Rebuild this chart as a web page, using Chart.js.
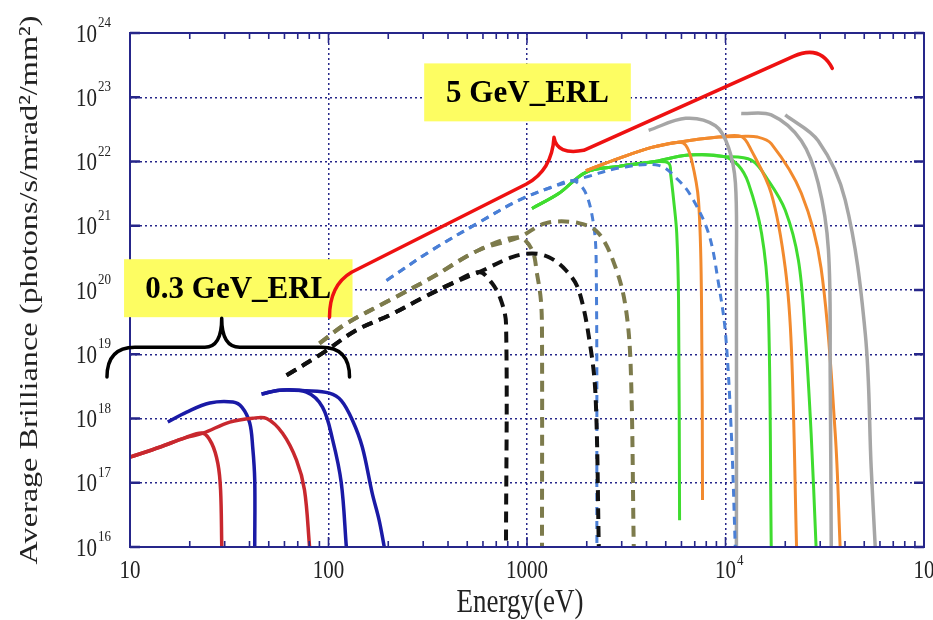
<!DOCTYPE html>
<html>
<head>
<meta charset="utf-8">
<script src="https://cdn.jsdelivr.net/npm/chart.js@4.4.1/dist/chart.umd.min.js"></script>
<style>
  html, body { margin: 0; padding: 0; background: #fff; }
  #chart { display: block; }
</style>
</head>
<body>
<canvas id="chart" width="933" height="620"></canvas>
<script>
// Axis ticks (decades)
const xTicks = [10, 100, 1000, 1e4, 1e5];
const xTickLabels = [["10", ""], ["100", ""], ["1000", ""], ["10", "4"], ["10", "5"]];
const yTicks = [1e16, 1e17, 1e18, 1e19, 1e20, 1e21, 1e22, 1e23, 1e24];
const yTickLabels = ["16", "17", "18", "19", "20", "21", "22", "23", "24"];

// 0.3 GeV_ERL curves (solid red / blue)
const redA_E = [10, 14.2, 18.9, 23.3, 25.8, 27.7, 28.6, 29.0];
const redA_B = [2.5e17, 3.6e17, 5.0e17, 5.9e17, 4.1e17, 2.0e17, 7.7e16, 1e16];
const redB_E = [10, 14.2, 18.9, 23.3, 31.8, 41.5, 48.8, 58.7, 69, 75.7, 80.3];
const redB_B = [2.5e17, 3.6e17, 5.0e17, 5.9e17, 8.8e17, 1.01e18, 1.0e18, 5.9e17, 2.25e17, 7.7e16, 1e16];
const blueC_E = [15.5, 19.3, 25.2, 33, 36.6, 40.1, 41.5, 42.5, 42.5];
const blueC_B = [8.8e17, 1.26e18, 1.74e18, 1.8e18, 1.5e18, 8.5e17, 3.6e17, 1.1e17, 1e16];
const blueD_E = [46, 56.8, 77.4, 93.3, 105, 116, 123];
const blueD_B = [2.4e18, 2.76e18, 2.57e18, 1.5e18, 4.6e17, 9.9e16, 1e16];
const blueE_E = [46, 56.8, 77.4, 101, 116, 132, 148, 166, 180, 191];
const blueE_B = [2.4e18, 2.76e18, 2.7e18, 2.48e18, 1.9e18, 9.4e17, 3.6e17, 6.9e16, 2.6e16, 1e16];

// dashed curves
const blackBig_E = [61.5, 93.3, 138, 203, 297, 420, 574, 841, 1060, 1290, 1570, 1824, 2100, 2220, 2300];
const blackBig_B = [4.7e18, 1.04e19, 2.37e19, 4.05e19, 7.5e19, 1.27e20, 1.9e20, 3.25e20, 3.7e20, 3.24e20, 2.03e20, 9.9e19, 1.15e19, 1.93e18, 1e16];
const blackSmall_E = [61.5, 93.3, 138, 203, 297, 420, 574, 667, 740, 784, 784];
const blackSmall_B = [4.7e18, 1.04e19, 2.37e19, 4.05e19, 7.5e19, 1.27e20, 1.9e20, 1.27e20, 6.9e19, 3e19, 1e16];
const oliveA_E = [90, 123, 203, 333, 574, 912, 1060, 1122, 1175, 1190, 1190];
const oliveA_B = [1.48e19, 3e19, 6.9e19, 1.58e20, 4.2e20, 6.6e20, 4.2e20, 1.82e20, 6.9e19, 2.1e19, 1e16];
const oliveB_E = [90, 123, 203, 333, 574, 912, 1245, 1824, 2300, 2800, 3140, 3330, 3450];
const oliveB_B = [1.48e19, 3e19, 6.9e19, 1.58e20, 4.2e20, 6.6e20, 1.1e21, 1.1e21, 7.6e20, 2.2e20, 5.4e19, 6.3e18, 1e16];
const bdashA_E = [196, 333, 574, 912, 1336, 1700, 1950, 2150, 2230, 2250];
const bdashA_B = [1.41e20, 4.2e20, 1.13e21, 2.5e21, 4e21, 5e21, 3.5e21, 1.2e21, 3e20, 1e16];
const bdashB_E = [196, 333, 574, 912, 1336, 2050, 2900, 4600, 5800, 6750, 8220, 9220, 10000, 10700, 11200];
const bdashB_B = [1.41e20, 4.2e20, 1.13e21, 2.5e21, 4e21, 5.9e21, 7.9e21, 8.7e21, 5.1e21, 2.8e21, 7.6e20, 1.27e20, 2.1e19, 5.9e17, 1e16];

// 5 GeV_ERL solid curves
const green1_E = [1060, 1450, 1980, 2900, 4250, 5170, 5300, 5480, 5680, 5800, 5870];
const green1_B = [1.86e21, 3.2e21, 6.8e21, 8.4e21, 9.8e21, 9.4e21, 6.1e21, 2.5e21, 7.6e20, 6.9e19, 2.6e16];
const green2_E = [1060, 1450, 1980, 2900, 4250, 6500, 9770, 11600, 13050, 15200, 16400, 17000];
const green2_B = [1.86e21, 3.2e21, 6.8e21, 8.4e21, 9.8e21, 1.26e22, 1.2e22, 8.7e21, 4.6e21, 7.6e20, 6.9e19, 1e16];
const green3_E = [1060, 1450, 1980, 2900, 4250, 6500, 9770, 13500, 16400, 20000, 23300, 25200, 27000, 28600];
const green3_B = [1.86e21, 3.2e21, 6.8e21, 8.4e21, 9.8e21, 1.26e22, 1.2e22, 1.05e22, 5.1e21, 1.74e21, 2.9e20, 2.1e19, 5.9e17, 1e16];
const orange1_E = [1980, 2900, 4250, 5800, 6300, 6750, 7310, 7570, 7660];
const orange1_B = [7.2e21, 1.12e22, 1.66e22, 2e22, 1.8e22, 1.05e22, 2.5e21, 6.9e19, 5.4e16];
const orange2_E = [1980, 2900, 4250, 5800, 9220, 12000, 13500, 17000, 20000, 21500, 22800];
const orange2_B = [7.2e21, 1.12e22, 1.66e22, 2e22, 2.4e22, 2.46e22, 1.49e22, 3.2e21, 2.2e20, 1.15e19, 1e16];
const orange3_E = [1980, 2900, 4250, 5800, 9220, 12000, 14500, 17000, 24100, 30300, 35700, 37800];
const orange3_B = [7.2e21, 1.12e22, 1.66e22, 2e22, 2.4e22, 2.46e22, 2.4e22, 1.9e22, 3.2e21, 2.2e20, 5.9e17, 1e16];
const gray1_E = [4100, 6300, 8900, 10350, 11220, 11350, 11350];
const gray1_B = [3.05e22, 4.7e22, 3.6e22, 1.66e22, 4.6e21, 2.2e20, 1e16];
const gray2_E = [12000, 17000, 24100, 29300, 33000, 33700, 34100];
const gray2_B = [5.6e22, 5.3e22, 2.1e22, 4.6e21, 4.2e20, 4e18, 1e16];
const gray3_E = [20000, 29300, 40100, 50600, 54200, 56800];
const gray3_B = [5.3e22, 2.1e22, 2.5e21, 2.1e19, 1.7e17, 1e16];

// labels and braces, in log10(E), log10(B)
const boxLabels = ["0.3 GeV_ERL", "5 GeV_ERL"];
const boxCorners = [[0.97, 20.479, 2.121, 19.577], [2.482, 23.527, 3.523, 22.625]];
const redBrace = [
  ["M", 2.005, 19.577],
  ["Q", 2.005, 20.075, 2.116, 20.277],
  ["L", 2.995, 21.645],
  ["Q", 3.126, 21.863, 3.136, 22.376],
  ["Q", 3.151, 22.097, 3.286, 22.174],
  ["L", 4.342, 23.636],
  ["Q", 4.477, 23.823, 4.538, 23.449]
];
const blackBrace = [
  ["M", 0.884, 18.644],
  ["Q", 0.884, 19.11, 1.025, 19.11],
  ["L", 1.377, 19.11],
  ["Q", 1.462, 19.11, 1.462, 19.561],
  ["Q", 1.462, 19.11, 1.553, 19.11],
  ["L", 1.965, 19.11],
  ["Q", 2.106, 19.11, 2.106, 18.644]
];

const RED = "#c8282e", BLUE = "#1a1aa6", BLACK = "#111111", OLIVE = "#7d7b4c",
      BDASH = "#4a7fd6", GREEN = "#3fdc2f", ORANGE = "#f28a2e", GRAY = "#a6a6a6";
const NAVY = "#26268a";

const series = [
  [blackBig_E, blackBig_B, BLACK, [11, 7], 4],
  [blackSmall_E, blackSmall_B, BLACK, [11, 7], 4],
  [oliveA_E, oliveA_B, OLIVE, [11, 7], 4],
  [oliveB_E, oliveB_B, OLIVE, [11, 7], 4],
  [bdashA_E, bdashA_B, BDASH, [8, 6], 3],
  [bdashB_E, bdashB_B, BDASH, [8, 6], 3],
  [redA_E, redA_B, RED, [], 3.5],
  [redB_E, redB_B, RED, [], 3.5],
  [blueC_E, blueC_B, BLUE, [], 3.5],
  [blueD_E, blueD_B, BLUE, [], 3.5],
  [blueE_E, blueE_B, BLUE, [], 3.5],
  [gray1_E, gray1_B, GRAY, [], 3.5],
  [gray2_E, gray2_B, GRAY, [], 3.5],
  [gray3_E, gray3_B, GRAY, [], 3.5],
  [orange1_E, orange1_B, ORANGE, [], 3],
  [orange2_E, orange2_B, ORANGE, [], 3],
  [orange3_E, orange3_B, ORANGE, [], 3],
  [green1_E, green1_B, GREEN, [], 3],
  [green2_E, green2_B, GREEN, [], 3],
  [green3_E, green3_B, GREEN, [], 3]
];

const datasets = series.map(([es, bs, color, dash, width]) => ({
  data: es.map((e, i) => ({ x: e, y: bs[i] })),
  borderColor: color,
  borderWidth: width,
  borderDash: dash,
  pointRadius: 0,
  tension: 0.35,
  fill: false
}));

function stretchText(ctx, txt, x, y, font, sy, align, baseline) {
  ctx.save();
  ctx.translate(x, y);
  ctx.scale(1, sy);
  ctx.font = font;
  ctx.textAlign = align;
  ctx.textBaseline = baseline;
  ctx.fillText(txt, 0, 0);
  ctx.restore();
}

const decor = {
  id: "decor",
  beforeDraw(chart) {
    const ctx = chart.ctx;
    ctx.save();
    ctx.fillStyle = "#fff";
    ctx.fillRect(0, 0, chart.width, chart.height);
    ctx.restore();
  },
  afterDatasetsDraw(chart) {
    const ctx = chart.ctx;
    const xs = chart.scales.x, ys = chart.scales.y;
    const a = chart.chartArea;
    const px = lx => xs.getPixelForValue(Math.pow(10, lx));
    const py = lb => ys.getPixelForValue(Math.pow(10, lb));

    // frame and ticks
    ctx.save();
    ctx.strokeStyle = NAVY;
    ctx.lineWidth = 2;
    ctx.strokeRect(a.left, a.top, a.right - a.left, a.bottom - a.top);
    ctx.lineWidth = 1.6;
    ctx.beginPath();
    for (let d = 10; d < 1e5; d *= 10) {
      for (let k = 1; k <= 9; k++) {
        const x = xs.getPixelForValue(d * k);
        const len = k === 1 ? 10 : 6;
        ctx.moveTo(x, a.bottom); ctx.lineTo(x, a.bottom - len);
        ctx.moveTo(x, a.top); ctx.lineTo(x, a.top + len);
      }
    }
    ctx.stroke();
    ctx.lineWidth = 2.5;
    ctx.beginPath();
    yTicks.forEach(v => {
      const y = ys.getPixelForValue(v);
      ctx.moveTo(a.left, y); ctx.lineTo(a.left + 10, y);
      ctx.moveTo(a.right, y); ctx.lineTo(a.right - 10, y);
    });
    ctx.stroke();
    ctx.restore();

    // tick labels
    ctx.save();
    ctx.fillStyle = "#222";
    const serif = '"Liberation Serif", "DejaVu Serif", serif';
    xTicks.forEach((v, i) => {
      const x = xs.getPixelForValue(v);
      const [base, exp] = xTickLabels[i];
      stretchText(ctx, base, x, 571, "21px " + serif, 1.2, "center", "middle");
      if (exp) {
        ctx.font = "21px " + serif;
        const w = ctx.measureText(base).width;
        stretchText(ctx, exp, x + w / 2 + 1, 561, "13px " + serif, 1.2, "left", "middle");
      }
    });
    yTicks.forEach((v, i) => {
      const y = ys.getPixelForValue(v);
      stretchText(ctx, "10", 97, y + 2, "21px " + serif, 1.2, "right", "middle");
      stretchText(ctx, yTickLabels[i], 98, y - 10, "13px " + serif, 1.2, "left", "middle");
    });

    // axis titles
    stretchText(ctx, "Energy(eV)", 520, 603, "27px " + serif, 1.22, "center", "middle");
    ctx.save();
    ctx.translate(30, 290);
    ctx.rotate(-Math.PI / 2);
    ctx.scale(1.24, 1);
    ctx.font = "26px " + serif;
    ctx.textAlign = "center";
    ctx.textBaseline = "middle";
    ctx.fillText("Average Brilliance (photons/s/mrad²/mm²)", 0, 0);
    ctx.restore();
    ctx.restore();

    // yellow label boxes
    ctx.save();
    boxCorners.forEach((c, i) => {
      const x1 = px(c[0]), y1 = py(c[1]), x2 = px(c[2]), y2 = py(c[3]);
      ctx.fillStyle = "#fdfd62";
      ctx.fillRect(x1, y1, x2 - x1, y2 - y1);
      ctx.fillStyle = "#000";
      ctx.font = 'bold 31px "Liberation Serif", serif';
      ctx.textAlign = "center";
      ctx.textBaseline = "middle";
      ctx.fillText(boxLabels[i], (x1 + x2) / 2, (y1 + y2) / 2 + 2);
    });

    // braces
    const drawPath = (cmds, color) => {
      ctx.beginPath();
      cmds.forEach(c => {
        if (c[0] === "M") ctx.moveTo(px(c[1]), py(c[2]));
        else if (c[0] === "L") ctx.lineTo(px(c[1]), py(c[2]));
        else ctx.quadraticCurveTo(px(c[1]), py(c[2]), px(c[3]), py(c[4]));
      });
      ctx.strokeStyle = color;
      ctx.lineWidth = 3.5;
      ctx.lineCap = "round";
      ctx.lineJoin = "round";
      ctx.stroke();
    };
    drawPath(redBrace, "#ee1111");
    drawPath(blackBrace, "#000");
    ctx.restore();
  }
};

new Chart(document.getElementById("chart"), {
  type: "line",
  data: { datasets },
  options: {
    responsive: false,
    animation: false,
    devicePixelRatio: 1,
    layout: { padding: { left: 130, top: 33, right: 9, bottom: 73 } },
    plugins: { legend: { display: false }, tooltip: { enabled: false } },
    scales: {
      x: {
        type: "logarithmic",
        min: 10,
        max: 1e5,
        afterBuildTicks: s => { s.ticks = xTicks.map(v => ({ value: v })); },
        afterFit: s => { s.height = 0; },
        ticks: { display: false },
        grid: { color: NAVY, lineWidth: 1.5, drawTicks: false },
        border: { display: false, dash: [2, 3] }
      },
      y: {
        type: "logarithmic",
        min: 1e16,
        max: 1e24,
        afterBuildTicks: s => { s.ticks = yTicks.map(v => ({ value: v })); },
        afterFit: s => { s.width = 0; },
        ticks: { display: false },
        grid: { color: NAVY, lineWidth: 1.5, drawTicks: false },
        border: { display: false, dash: [2, 3] }
      }
    }
  },
  plugins: [decor]
});
</script>
</body>
</html>
